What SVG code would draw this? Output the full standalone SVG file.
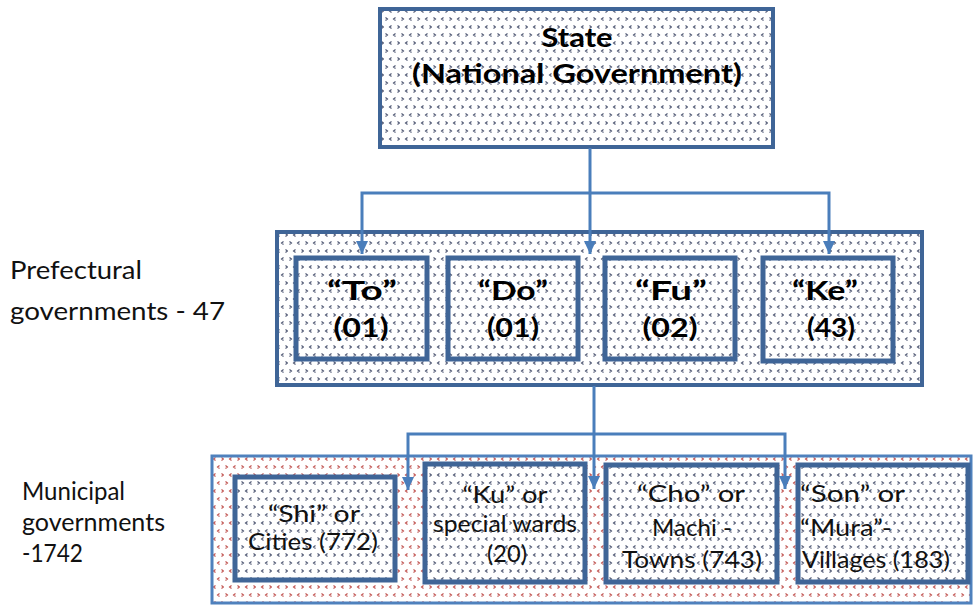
<svg xmlns="http://www.w3.org/2000/svg" width="973" height="605" viewBox="0 0 973 605">
<defs>
<pattern id="pg" width="16" height="16" patternUnits="userSpaceOnUse">
<rect width="16" height="16" fill="#ffffff"/>
<path d="M1.5,1.5 L3.5,3 L1.5,4.5 M11.5,1.5 L9.5,3 L11.5,4.5 M7.5,9.5 L5.5,11 L7.5,12.5 M13.5,9.5 L15.5,11 L13.5,12.5" fill="none" stroke="#4c5470" stroke-width="1.1"/>
</pattern>
<pattern id="pr" width="16" height="16" patternUnits="userSpaceOnUse">
<rect width="16" height="16" fill="#ffffff"/>
<path d="M1.5,1.5 L3.5,3 L1.5,4.5 M11.5,1.5 L9.5,3 L11.5,4.5 M7.5,9.5 L5.5,11 L7.5,12.5 M13.5,9.5 L15.5,11 L13.5,12.5" fill="none" stroke="#c0504d" stroke-width="1.1"/>
</pattern>
<marker id="ah" markerUnits="userSpaceOnUse" markerWidth="14" markerHeight="14" viewBox="0 0 14 14" refX="13" refY="7" orient="auto">
<path d="M0,1 L13,7 L0,13 Z" fill="#4a7ebb"/>
</marker>
</defs>
<style>
.frame{fill:url(#pg);stroke:#3f6597;stroke-width:4}
.cont{fill:url(#pg);stroke:#3f6597;stroke-width:4}
.contr{fill:url(#pr);stroke:#4f81bd;stroke-width:3}
.box{fill:url(#pg);stroke:#3f6597;stroke-width:5}
.conn{fill:none;stroke:#4a7ebb;stroke-width:3;marker-end:url(#ah)}
.tb{font-family:Lato,"Liberation Sans",sans-serif;font-weight:bold;fill:#000;text-anchor:middle}
.tr{font-family:Lato,"Liberation Sans",sans-serif;fill:#111;text-anchor:middle;font-size:23px}
.tl{font-family:Lato,"Liberation Sans",sans-serif;fill:#111;font-size:23px}
.lbl{font-family:Lato,"Liberation Sans",sans-serif;fill:#111;font-size:25px}
</style>

<g id="state">
<rect class="frame" x="380" y="9" width="393" height="138"/>
<text class="tb" font-size="27" x="577" y="47" textLength="71" lengthAdjust="spacingAndGlyphs">State</text>
<text class="tb" font-size="27" x="577" y="83" textLength="330" lengthAdjust="spacingAndGlyphs">(National Government)</text>
</g>

<g id="prefectural">
<rect class="cont" x="277" y="232" width="645" height="153"/>
</g>
<g id="to">
<rect class="box" x="296" y="258" width="131" height="101"/>
<text class="tb" font-size="27" x="362" y="300" textLength="70" lengthAdjust="spacingAndGlyphs">“To”</text>
<text class="tb" font-size="27" x="361" y="337" textLength="55" lengthAdjust="spacingAndGlyphs">(01)</text>
</g>
<g id="do">
<rect class="box" x="448" y="258" width="130" height="101"/>
<text class="tb" font-size="27" x="513" y="300" textLength="70" lengthAdjust="spacingAndGlyphs">“Do”</text>
<text class="tb" font-size="27" x="513" y="337" textLength="52" lengthAdjust="spacingAndGlyphs">(01)</text>
</g>
<g id="fu">
<rect class="box" x="605" y="258" width="130" height="101"/>
<text class="tb" font-size="27" x="671" y="300" textLength="72" lengthAdjust="spacingAndGlyphs">“Fu”</text>
<text class="tb" font-size="27" x="670" y="337" textLength="55" lengthAdjust="spacingAndGlyphs">(02)</text>
</g>
<g id="ke">
<rect class="box" x="763" y="258" width="130" height="103"/>
<text class="tb" font-size="27" x="825" y="300" textLength="66" lengthAdjust="spacingAndGlyphs">“Ke”</text>
<text class="tb" font-size="27" x="831" y="337" textLength="48" lengthAdjust="spacingAndGlyphs">(43)</text>
</g>

<g id="municipal">
<rect class="contr" x="212" y="456" width="759" height="147"/>
</g>
<g id="shi">
<rect class="box" x="235" y="477" width="160" height="103"/>
<text class="tr" x="314" y="522" textLength="92" lengthAdjust="spacingAndGlyphs">“Shi” or</text>
<text class="tr" x="313" y="550" textLength="130" lengthAdjust="spacingAndGlyphs">Cities (772)</text>
</g>
<g id="ku">
<rect class="box" x="425" y="464" width="160" height="118"/>
<text class="tr" x="505" y="503" textLength="85" lengthAdjust="spacingAndGlyphs">“Ku” or</text>
<text class="tr" x="505" y="532" textLength="144" lengthAdjust="spacingAndGlyphs">special wards</text>
<text class="tr" x="507" y="562" textLength="40" lengthAdjust="spacingAndGlyphs">(20)</text>
</g>
<g id="cho">
<rect class="box" x="606" y="465" width="171" height="117"/>
<text class="tr" x="691" y="502" textLength="108" lengthAdjust="spacingAndGlyphs">“Cho” or</text>
<text class="tr" x="692" y="536" textLength="80" lengthAdjust="spacingAndGlyphs">Machi -</text>
<text class="tr" x="692" y="568" textLength="140" lengthAdjust="spacingAndGlyphs">Towns (743)</text>
</g>
<g id="son">
<rect class="box" x="798" y="465" width="170" height="117"/>
<text class="tl" x="800" y="502" textLength="105" lengthAdjust="spacingAndGlyphs">“Son” or</text>
<text class="tl" x="800" y="536" textLength="92" lengthAdjust="spacingAndGlyphs">“Mura”-</text>
<text class="tl" x="802" y="568" textLength="148" lengthAdjust="spacingAndGlyphs">Villages (183)</text>
</g>

<g id="label-prefectural">
<text class="lbl" x="10" y="279" textLength="132" lengthAdjust="spacingAndGlyphs">Prefectural</text>
<text class="lbl" x="10" y="320" textLength="215" lengthAdjust="spacingAndGlyphs">governments - 47</text>
</g>
<g id="label-municipal">
<text class="lbl" x="22" y="500" font-size="23" textLength="103" lengthAdjust="spacingAndGlyphs">Municipal</text>
<text class="lbl" x="22" y="531" font-size="23" textLength="143" lengthAdjust="spacingAndGlyphs">governments</text>
<text class="lbl" x="22" y="562" font-size="23" textLength="61" lengthAdjust="spacingAndGlyphs">-1742</text>
</g>

<g id="connectors">
<path class="conn" d="M590,148 V254"/>
<path class="conn" d="M590,193 H362 V254"/>
<path class="conn" d="M590,193 H829 V254"/>
<path class="conn" d="M594,386 V489"/>
<path class="conn" d="M594,434 H408 V490"/>
<path class="conn" d="M594,434 H785 V489"/>
</g>
</svg>
